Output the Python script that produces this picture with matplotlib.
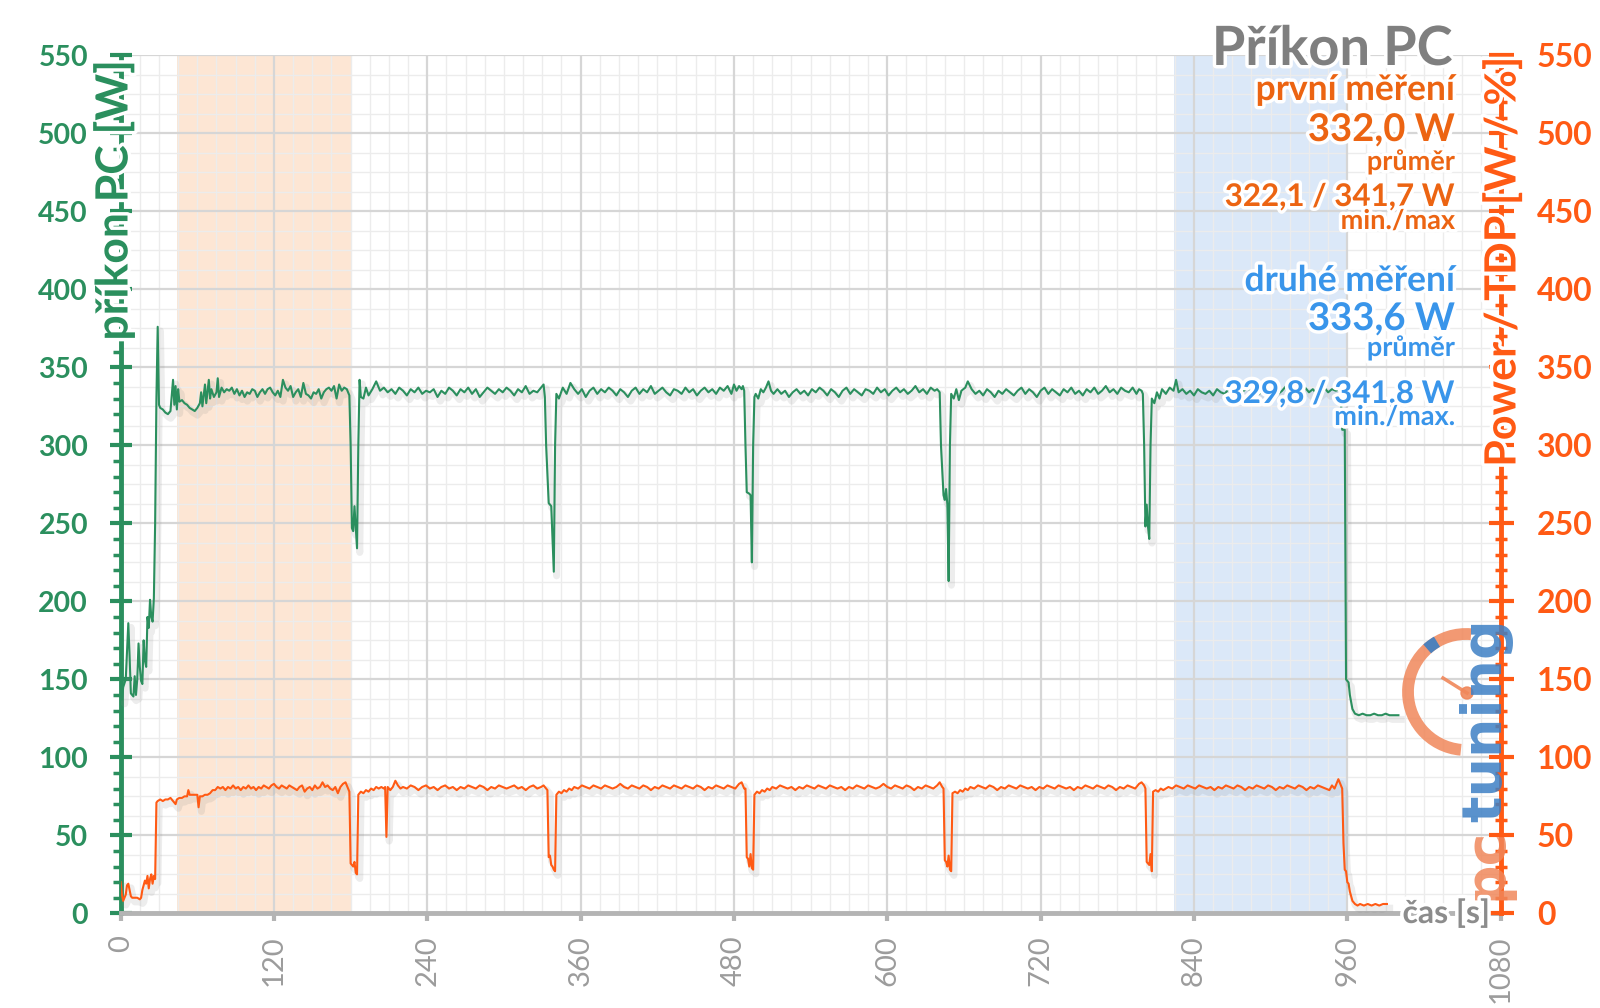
import numpy as np
import matplotlib.pyplot as plt
import matplotlib.patheffects as pe
from matplotlib.patches import Arc, Circle
from matplotlib.ticker import MultipleLocator

plt.rcParams['font.family'] = ['Lato', 'DejaVu Sans']

# příkon PC [W]: (čas [s], W)
prikon_pc = [
    (0, 138), (1, 137), (2, 145), (4, 150), (6, 186), (7, 165), (8, 141), (10, 139), (11, 152), (12, 140),
    (13, 150), (14, 173), (15, 158), (16, 149), (17, 147), (18, 175), (19, 162), (20, 158), (21, 190),
    (22, 183), (23, 201), (24, 190), (25, 187), (26, 202), (27, 250), (28, 330), (29, 376), (30, 326),
    (31, 324), (33, 323), (35, 321), (37, 320), (39, 322), (41, 342), (42, 326), (43, 338), (44, 323),
    (45, 336), (46, 328), (48, 329), (50, 327), (52, 326), (54, 324), (56, 323), (58, 322), (60, 324),
    (62, 327), (63, 334), (64, 325), (66, 339), (67, 327), (69, 342), (70, 330), (71, 336), (73, 331),
    (75, 334), (76, 343), (77, 331), (79, 337), (81, 334), (83, 336), (85, 335), (87, 337), (89, 333),
    (91, 336), (93, 332), (95, 335), (97, 331), (99, 334), (101, 333), (103, 336), (105, 335), (107, 331),
    (109, 334), (111, 336), (113, 333), (115, 336), (117, 337), (119, 334), (121, 332), (123, 335),
    (125, 331), (127, 342), (129, 337), (131, 335), (133, 338), (135, 331), (137, 334), (139, 336),
    (141, 331), (143, 340), (145, 333), (147, 332), (149, 330), (151, 334), (153, 333), (155, 336),
    (157, 330), (159, 334), (161, 336), (163, 337), (165, 335), (167, 338), (169, 330), (171, 339),
    (173, 335), (175, 337), (177, 336), (178, 334),
    (179, 332), (180, 300), (181, 247), (182, 245), (183, 261), (184, 247), (185, 234), (186, 300),
    (187, 342), (188, 331), (190, 330), (192, 337), (194, 332), (197, 336), (200, 341), (203, 335),
    (206, 337), (209, 334), (212, 336), (215, 333), (218, 337), (221, 335), (224, 332), (227, 336),
    (230, 334), (233, 337), (236, 333), (239, 335), (242, 334), (245, 336), (248, 331), (251, 335),
    (254, 333), (257, 337), (260, 335), (263, 332), (266, 336), (269, 334), (272, 337), (275, 333),
    (278, 336), (281, 331), (284, 334), (287, 337), (290, 335), (293, 333), (296, 336), (299, 334),
    (302, 337), (305, 335), (308, 332), (311, 336), (314, 334), (317, 338), (320, 333), (323, 335),
    (326, 334), (329, 337), (331, 339),
    (332, 331), (333, 300), (335, 263), (337, 261), (339, 219), (340, 300), (341, 333), (343, 330),
    (346, 337), (349, 333), (352, 340), (355, 336), (358, 333), (361, 336), (364, 331), (367, 335),
    (370, 337), (373, 333), (376, 336), (379, 334), (382, 337), (385, 335), (388, 332), (391, 336),
    (394, 334), (397, 331), (400, 335), (403, 337), (406, 333), (409, 336), (412, 334), (415, 338),
    (418, 333), (421, 335), (424, 337), (427, 334), (430, 332), (433, 336), (436, 335), (439, 333),
    (442, 337), (445, 334), (448, 336), (451, 332), (454, 335), (457, 337), (460, 334), (463, 336),
    (466, 333), (469, 337), (472, 335), (475, 338), (478, 333), (480, 339), (482, 335), (484, 338),
    (486, 336), (487, 338),
    (488, 335), (489, 300), (490, 270), (492, 269), (493, 268), (494, 225), (495, 300), (496, 331),
    (497, 333), (499, 330), (501, 336), (503, 334), (505, 337), (507, 341), (509, 335), (511, 333),
    (514, 336), (517, 333), (520, 335), (523, 331), (526, 334), (529, 336), (532, 333), (535, 335),
    (538, 332), (541, 336), (544, 334), (547, 337), (550, 335), (553, 332), (556, 336), (559, 334),
    (562, 331), (565, 335), (568, 337), (571, 333), (574, 336), (577, 334), (580, 332), (583, 336),
    (586, 335), (589, 333), (592, 337), (595, 334), (598, 336), (601, 332), (604, 335), (607, 337),
    (610, 334), (613, 336), (616, 333), (619, 335), (622, 338), (625, 334), (628, 336), (631, 333),
    (634, 337), (637, 335), (639, 336), (640, 335),
    (641, 334), (642, 300), (644, 268), (645, 265), (646, 272), (647, 262), (648, 213), (649, 300),
    (650, 333), (652, 330), (654, 336), (656, 329), (658, 335), (661, 337), (663, 341), (666, 336),
    (669, 333), (672, 335), (675, 332), (678, 336), (681, 334), (684, 331), (687, 335), (690, 333),
    (693, 336), (696, 334), (699, 332), (702, 335), (705, 337), (708, 333), (711, 336), (714, 334),
    (717, 331), (720, 335), (723, 337), (726, 333), (729, 336), (732, 334), (735, 332), (738, 336),
    (741, 334), (744, 337), (747, 333), (750, 335), (753, 332), (756, 336), (759, 334), (762, 337),
    (765, 333), (768, 335), (771, 338), (774, 334), (777, 336), (780, 333), (783, 337), (786, 335),
    (789, 334), (792, 337), (795, 333), (797, 336), (799, 335),
    (800, 333), (801, 300), (802, 248), (803, 262), (804, 248), (805, 240), (806, 300), (807, 330),
    (809, 327), (811, 334), (813, 330), (815, 336), (818, 333), (821, 337), (824, 335), (826, 342),
    (828, 334), (831, 336), (834, 333), (837, 335), (840, 332), (843, 336), (846, 334), (849, 333),
    (852, 335), (855, 332), (858, 336), (861, 334), (864, 333), (867, 336), (870, 334), (873, 337),
    (876, 333), (879, 335), (882, 337), (885, 334), (888, 336), (891, 333), (894, 335), (897, 337),
    (900, 334), (903, 336), (906, 333), (909, 335), (912, 338), (915, 334), (918, 336), (921, 333),
    (924, 335), (927, 337), (930, 334), (933, 336), (936, 333), (939, 335), (942, 337), (945, 334),
    (948, 336), (951, 335), (954, 336), (955, 334),
    (956, 310), (958, 310), (959, 150), (961, 148), (962, 140), (964, 131), (966, 128), (969, 127),
    (972, 128), (975, 127), (978, 127), (981, 128), (984, 127), (987, 127), (990, 128), (993, 127),
    (996, 127), (1000, 127),
]

# Power / TDP [W / %]: (čas [s], hodnota)
power_tdp = [
    (0, 20), (1, 12), (2, 8), (4, 12), (5, 18), (6, 19), (7, 15), (8, 11), (9, 10), (11, 10), (13, 10),
    (15, 9), (16, 10), (17, 15), (18, 18), (19, 21), (20, 19), (21, 24), (22, 16), (23, 22), (24, 25),
    (25, 19), (26, 24), (27, 22), (28, 71),
    (29, 72), (31, 73), (33, 72), (35, 73), (37, 73), (39, 74), (41, 72), (43, 70), (44, 73), (46, 74),
    (48, 74), (50, 75), (52, 75), (53, 79), (54, 76), (56, 76), (58, 76), (60, 76), (61, 68), (62, 75),
    (64, 75), (66, 76), (68, 76), (70, 77), (72, 79), (74, 79), (76, 81), (78, 80), (80, 81), (82, 79),
    (84, 81), (86, 80), (88, 82), (90, 80), (92, 81), (94, 79), (96, 81), (98, 80), (100, 82), (102, 80),
    (104, 81), (106, 79), (108, 81), (110, 80), (112, 82), (114, 81), (116, 80), (118, 82), (120, 83),
    (122, 81), (124, 80), (126, 82), (128, 81), (130, 80), (132, 82), (134, 81), (136, 80), (138, 79),
    (140, 81), (142, 82), (144, 78), (146, 80), (148, 81), (150, 79), (152, 82), (154, 80), (156, 81),
    (158, 84), (160, 81), (162, 82), (164, 80), (166, 79), (168, 81), (170, 77), (172, 81), (174, 83),
    (176, 84), (177, 82), (178, 80),
    (179, 78), (180, 32), (181, 31), (182, 30), (183, 33), (184, 26), (185, 25), (186, 76), (188, 78),
    (190, 77), (192, 79), (194, 78), (196, 80), (198, 79), (200, 81), (202, 80), (204, 81), (206, 80),
    (207, 81), (208, 49), (209, 81), (211, 79), (213, 81), (215, 85), (217, 82), (219, 80), (221, 81),
    (224, 80), (227, 82), (230, 81), (233, 79), (236, 81), (239, 82), (242, 80), (245, 81), (248, 79),
    (251, 81), (254, 82), (257, 80), (260, 81), (263, 79), (266, 81), (269, 80), (272, 82), (275, 81),
    (278, 80), (281, 82), (284, 81), (287, 79), (290, 81), (293, 80), (296, 82), (299, 81), (302, 80),
    (305, 81), (308, 82), (311, 80), (314, 81), (317, 79), (320, 81), (323, 82), (326, 80), (329, 81),
    (331, 82), (333, 80),
    (334, 79), (335, 36), (336, 37), (337, 31), (338, 30), (339, 28), (340, 27), (341, 76), (343, 78),
    (345, 77), (347, 79), (349, 78), (351, 80), (353, 79), (355, 81), (358, 80), (361, 82), (364, 81),
    (367, 80), (370, 82), (373, 81), (376, 80), (379, 82), (382, 81), (385, 80), (388, 81), (391, 83),
    (394, 81), (397, 80), (400, 82), (403, 81), (406, 80), (409, 82), (412, 81), (415, 79), (418, 81),
    (421, 80), (424, 82), (427, 81), (430, 80), (433, 82), (436, 81), (439, 80), (442, 82), (445, 81),
    (448, 80), (451, 82), (454, 81), (457, 79), (460, 81), (463, 80), (466, 82), (469, 81), (472, 80),
    (475, 82), (478, 81), (481, 80), (484, 83), (486, 84), (487, 82), (488, 80),
    (489, 80), (490, 36), (491, 35), (492, 30), (493, 38), (494, 29), (495, 28), (496, 76), (498, 78),
    (500, 77), (502, 79), (504, 78), (506, 80), (508, 79), (510, 81), (513, 80), (516, 82), (519, 81),
    (522, 80), (525, 81), (528, 79), (531, 81), (534, 80), (537, 82), (540, 81), (543, 80), (546, 82),
    (549, 81), (552, 80), (555, 82), (558, 81), (561, 80), (564, 81), (567, 79), (570, 81), (573, 80),
    (576, 82), (579, 81), (582, 80), (585, 82), (588, 81), (591, 80), (594, 81), (597, 83), (600, 81),
    (603, 80), (606, 82), (609, 81), (612, 80), (615, 82), (618, 81), (621, 79), (624, 81), (627, 80),
    (630, 82), (633, 81), (636, 80), (639, 82), (641, 84), (643, 81), (644, 80),
    (645, 34), (646, 33), (647, 30), (648, 37), (649, 28), (650, 27), (651, 77), (653, 78), (655, 77),
    (657, 79), (659, 78), (661, 80), (663, 79), (665, 81), (668, 80), (671, 82), (674, 81), (677, 80),
    (680, 82), (683, 81), (686, 79), (689, 81), (692, 80), (695, 82), (698, 81), (701, 80), (704, 82),
    (707, 81), (710, 80), (713, 81), (716, 79), (719, 81), (722, 80), (725, 82), (728, 81), (731, 80),
    (734, 82), (737, 81), (740, 80), (743, 81), (746, 79), (749, 81), (752, 80), (755, 82), (758, 81),
    (761, 80), (764, 82), (767, 81), (770, 80), (773, 82), (776, 81), (779, 79), (782, 81), (785, 80),
    (788, 82), (791, 81), (794, 80), (797, 83), (799, 84), (801, 82), (802, 80),
    (803, 33), (804, 32), (805, 31), (806, 38), (807, 27), (808, 78), (810, 79), (812, 78), (814, 80),
    (816, 79), (818, 80), (820, 81), (823, 80), (826, 82), (829, 81), (832, 80), (835, 82), (838, 81),
    (841, 80), (844, 82), (847, 81), (850, 80), (853, 81), (856, 79), (859, 81), (862, 80), (865, 82),
    (868, 81), (871, 80), (874, 82), (877, 81), (880, 79), (883, 81), (886, 80), (889, 82), (892, 81),
    (895, 80), (898, 82), (901, 81), (904, 79), (907, 81), (910, 80), (913, 82), (916, 81), (919, 80),
    (922, 82), (925, 81), (928, 79), (931, 81), (934, 80), (937, 82), (940, 81), (943, 80), (946, 79),
    (948, 82), (950, 80), (952, 84), (953, 86), (954, 84), (955, 82), (956, 80),
    (957, 45), (958, 28), (959, 27), (960, 20), (961, 19), (962, 14), (964, 8), (966, 6), (968, 5),
    (970, 6), (973, 5), (976, 6), (979, 5), (982, 6), (985, 5), (988, 6), (991, 6),
]

prvni_mereni = (44, 180)
druhe_mereni = (824, 960)

x_ticks = [0, 120, 240, 360, 480, 600, 720, 840, 960, 1080]
y_ticks = [0, 50, 100, 150, 200, 250, 300, 350, 400, 450, 500, 550]

souhrn = [
    ('první měření', 25.5, '#ec6412', 100),
    ('332,0 W', 27.5, '#ec6412', 141),
    ('průměr', 19.5, '#ec6412', 170),
    ('322,1 / 341,7 W', 22.5, '#ec6412', 206),
    ('min./max', 19.5, '#ec6412', 229),
    ('druhé měření', 25.5, '#3995ea', 291),
    ('333,6 W', 27.5, '#3995ea', 330),
    ('průměr', 19.5, '#3995ea', 356),
    ('329,8 / 341,8 W', 22.5, '#3995ea', 403),
    ('min./max.', 19.5, '#3995ea', 425),
]

ZELENA = '#2b8f5e'
ORANZOVA = '#ff5a14'
SEDA = '#b4b4b4'
glow = [pe.withStroke(linewidth=5, foreground='white')]
stin = [pe.SimpleLineShadow(offset=(2, -3), shadow_color='#888888', alpha=0.15, linewidth=5), pe.Normal()]

fig = plt.figure(figsize=(16, 10.08), dpi=100)
ax = fig.add_axes([0.0754, 0.0939, 0.8625, 0.8512])
ax.set_xlim(0, 1080)
ax.set_ylim(0, 550)

ax.axvspan(*prvni_mereni, color='#fde6d4', lw=0, zorder=0)
ax.axvspan(*druhe_mereni, color='#dbe8f8', lw=0, zorder=0)

# mřížka
ax.set_axisbelow(True)
ax.set_xticks(x_ticks)
ax.xaxis.set_minor_locator(MultipleLocator(15))
ax.set_yticks(y_ticks)
ax.set_yticklabels([str(v) for v in y_ticks], fontweight='bold')
ax.yaxis.set_minor_locator(MultipleLocator(10))
ax.grid(which='major', color='#d6d6d6', lw=1.6)
ax.grid(which='minor', axis='x', color='#ececec', lw=1.0)
for v in np.arange(12.5, 550, 12.5):
    if v % 50:
        ax.axhline(v, color='#ececec', lw=1.0, zorder=0.4)

for s in ['top', 'right']:
    ax.spines[s].set_visible(False)
ax.spines['left'].set_color(ZELENA)
ax.spines['left'].set_linewidth(3.5)
ax.spines['bottom'].set_color(SEDA)
ax.spines['bottom'].set_linewidth(3.5)

ax.tick_params(axis='y', which='major', direction='inout', length=16, width=3, color=ZELENA,
               labelcolor=ZELENA, labelsize=20.5, pad=15.5)
ax.tick_params(axis='y', which='minor', direction='out', length=6, width=2.5, color=ZELENA)
ax.tick_params(axis='x', which='major', direction='out', length=6, width=3, color=SEDA,
               labelcolor='#9c9c9c', labelsize=21, pad=10, labelrotation=90)
ax.tick_params(axis='x', which='minor', length=0)

t, w = np.array(prikon_pc).T
ax.plot(t, w, color=ZELENA, lw=1.5, zorder=3, path_effects=stin)

ax2 = ax.twinx()
ax2.set_ylim(0, 550)
ax2.set_yticks(y_ticks)
ax2.set_yticklabels([str(v) for v in y_ticks], fontweight='bold')
ax2.yaxis.set_minor_locator(MultipleLocator(10))
for s in ['top', 'left', 'bottom']:
    ax2.spines[s].set_visible(False)
ax2.spines['right'].set_color(ORANZOVA)
ax2.spines['right'].set_linewidth(3.5)
ax2.tick_params(axis='y', which='major', direction='inout', length=18, width=3, color=ORANZOVA,
                labelcolor=ORANZOVA, labelsize=23, pad=17)
ax2.tick_params(axis='y', which='minor', direction='inout', length=8, width=2.5, color=ORANZOVA)
t2, p2 = np.array(power_tdp).T
ax2.plot(t2, p2, color=ORANZOVA, lw=1.5, zorder=3, path_effects=stin)

# popisky os
fig.text(114 / 1600, 1 - 200 / 1008, 'příkon PC [W]', rotation=90, ha='center', va='center',
         color=ZELENA, fontsize=32, fontweight='bold', path_effects=glow)
fig.text(1502 / 1600, 1 - 262 / 1008, 'Power / TDP [W / %]', rotation=90, ha='center', va='center',
         color=ORANZOVA, fontsize=31, fontweight='bold', path_effects=glow)
fig.text(1490 / 1600, 1 - 913 / 1008, 'čas [s]', ha='right', va='center',
         color='#8c8c8c', fontsize=23, fontweight='bold', path_effects=glow)

fig.text(1452 / 1600, 1 - 65 / 1008, 'Příkon PC', ha='right', va='baseline',
         color='#7f7f7f', fontsize=39, fontweight='bold', path_effects=glow)
for txt, size, col, y in souhrn:
    fig.text(1455 / 1600, 1 - y / 1008, txt, ha='right', va='baseline', color=col,
             fontsize=size, fontweight='bold', path_effects=glow)

# logo
axl = fig.add_axes([0, 0, 1, 1])
axl.set_xlim(0, 1600)
axl.set_ylim(1008, 0)
axl.axis('off')
axl.add_patch(Arc((1466, 692), 116, 116, theta1=95, theta2=275, color='#f0875a', lw=8.5, alpha=0.85))
axl.add_patch(Arc((1466, 692), 116, 116, theta1=228, theta2=240, color='#3c7fc4', lw=8.5, alpha=0.9))
axl.plot([1467, 1443], [693, 678], color='#f0875a', lw=2.5, alpha=0.9)
axl.add_patch(Circle((1467, 693), 6, color='#f0875a', alpha=0.9))
axl.text(1486, 900, 'pc', rotation=90, ha='center', va='bottom', color='#f0875a', alpha=0.85,
         fontsize=40, fontweight='bold', family='DejaVu Sans')
axl.text(1486, 822, 'tuning', rotation=90, ha='center', va='bottom', color='#3c7fc4', alpha=0.85,
         fontsize=40, fontweight='bold', family='DejaVu Sans')

fig.savefig('out.png', dpi=100)
